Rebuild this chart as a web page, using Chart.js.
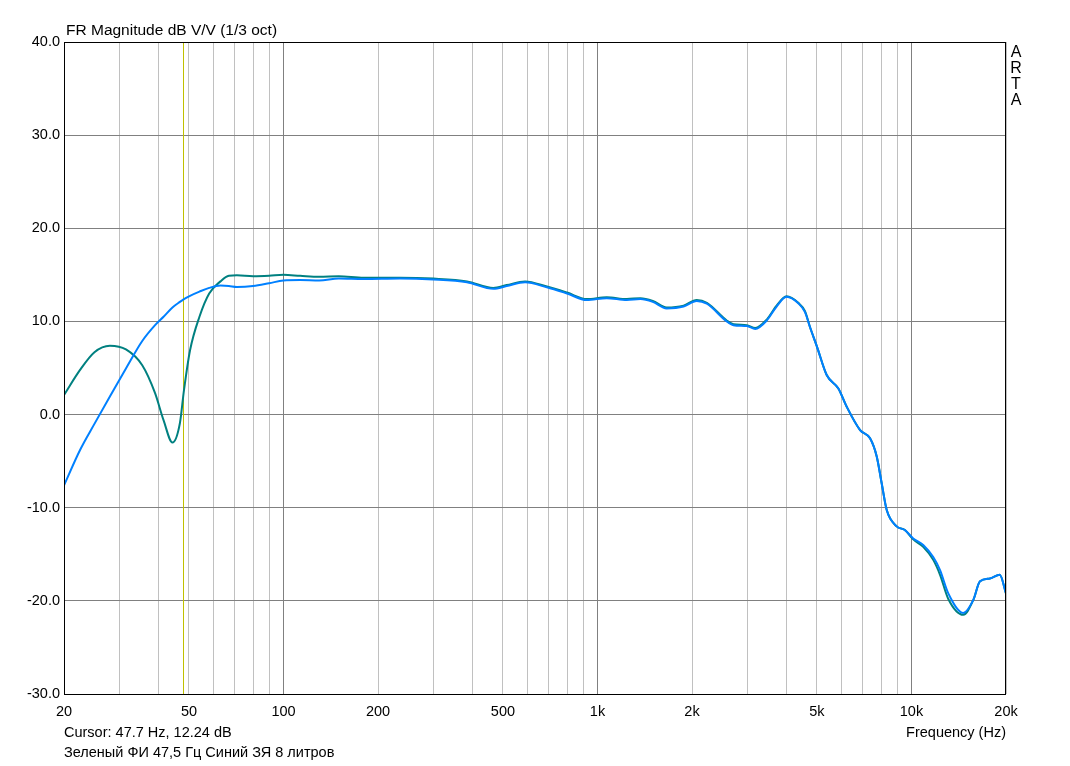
<!DOCTYPE html>
<html>
<head>
<meta charset="utf-8">
<script src="https://cdn.jsdelivr.net/npm/chart.js@4"></script>
<style>
  body { margin: 0; background: #fff; }
  #wrap { width: 1070px; height: 766px; position: relative; }
</style>
</head>
<body>
<div id="wrap"><canvas id="fr"></canvas></div>
<script>
// frequencies (Hz) shared by both traces
var freqs = [20, 22.5, 25, 28, 31.5, 35.5, 39, 41.5, 44.3, 46.8, 48.2, 50.4, 54, 58, 63, 67, 71, 80, 90, 100,
  113, 130, 150, 180, 235, 300, 384, 466, 514, 588, 690, 800, 925, 1070, 1240, 1370, 1500, 1660, 1880, 2070,
  2230, 2580, 2710, 2990, 3180, 3460, 3720, 4000, 4360, 4580, 4750, 5000, 5370, 5850, 6220, 6860, 7380, 7750,
  8040, 8340, 8970, 9530, 10130, 10900, 11730, 12330, 13100, 14620, 15740, 16530, 17780, 19100, 20000];

// green: ФИ 47,5 Гц
var greenDb = [2.1, 4.8, 6.7, 7.4, 7.0, 5.3, 2.3, -0.6, -3.0, -0.9, 2.6, 6.9, 10.5, 13.0, 14.3, 14.9, 14.95, 14.85, 14.9, 15.0,
  14.9, 14.8, 14.85, 14.7, 14.7, 14.6, 14.3, 13.6, 13.9, 14.3, 13.75, 13.1, 12.4, 12.6, 12.4, 12.5, 12.2, 11.5, 11.7, 12.3,
  12.0, 10.1, 9.7, 9.6, 9.3, 10.2, 11.7, 12.7, 12.0, 11.1, 9.4, 7.3, 4.25, 2.8, 0.84, -1.66, -2.55, -4.5,
  -7.4, -10.25, -12.0, -12.4, -13.4, -14.2, -15.6, -17.2, -19.8, -21.5, -19.9, -17.9, -17.6, -17.2, -19.2];

// blue: ЗЯ 8 литров
var blueDb = [-7.6, -3.8, -1.0, 1.95, 4.95, 7.9, 9.6, 10.5, 11.5, 12.1, 12.4, 12.75, 13.2, 13.6, 13.85, 13.8, 13.7, 13.8, 14.1, 14.4,
  14.45, 14.4, 14.6, 14.55, 14.6, 14.5, 14.2, 13.5, 13.8, 14.2, 13.66, 13.0, 12.3, 12.5, 12.3, 12.4, 12.1, 11.4, 11.6, 12.2,
  11.9, 10.0, 9.6, 9.5, 9.2, 10.1, 11.6, 12.65, 11.95, 11.0, 9.4, 7.3, 4.25, 2.8, 0.84, -1.66, -2.55, -4.5,
  -7.4, -10.25, -12.0, -12.4, -13.3, -14.0, -15.3, -16.7, -19.2, -21.3, -19.9, -17.9, -17.6, -17.2, -19.2];

var gridFreqs = [20, 30, 40, 50, 60, 70, 80, 90, 100, 200, 300, 400, 500, 600, 700, 800, 900,
  1000, 2000, 3000, 4000, 5000, 6000, 7000, 8000, 9000, 10000, 20000];
var labelFreqs = [20, 50, 100, 200, 500, 1000, 2000, 5000, 10000, 20000];
var cursorHz = 47.7;

var font = "'Liberation Sans', Arial, sans-serif";

function pts(ys) {
  return freqs.map(function (f, i) { return { x: f, y: ys[i] }; });
}

var extras = {
  id: 'extras',
  beforeDatasetsDraw: function (chart) {
    var c = chart.ctx, a = chart.chartArea;
    var x = Math.round(chart.scales.x.getPixelForValue(cursorHz)) + 0.5;
    c.save();
    c.strokeStyle = '#c0c000';
    c.lineWidth = 1;
    c.beginPath();
    c.moveTo(x, a.top);
    c.lineTo(x, a.bottom);
    c.stroke();
    c.restore();
  },
  afterDraw: function (chart) {
    var c = chart.ctx, a = chart.chartArea;
    c.save();
    c.strokeStyle = '#000';
    c.lineWidth = 1;
    c.strokeRect(a.left + 0.5, a.top + 0.5, a.right - a.left - 1, a.bottom - a.top);
    c.fillStyle = '#000';
    c.font = '15.5px ' + font;
    c.textAlign = 'left';
    c.fillText('FR Magnitude dB V/V (1/3 oct)', 66, 35);
    c.font = '14.5px ' + font;
    c.fillText('Cursor: 47.7 Hz, 12.24 dB', 64, 737);
    c.fillText('Зеленый ФИ 47,5 Гц Синий ЗЯ 8 литров', 64, 757);
    c.textAlign = 'right';
    c.fillText('Frequency (Hz)', 1006, 737);
    c.textAlign = 'center';
    c.font = '16px ' + font;
    ['A', 'R', 'T', 'A'].forEach(function (ch, i) {
      c.fillText(ch, 1016, 57 + i * 16);
    });
    c.restore();
  }
};

Chart.defaults.font.family = font;
Chart.defaults.font.size = 14.5;
Chart.defaults.color = '#000';

new Chart(document.getElementById('fr'), {
  type: 'line',
  data: {
    datasets: [{
      label: 'Синий ЗЯ 8 литров',
      data: pts(blueDb),
      borderColor: '#0080ff',
      borderWidth: 2,
      pointRadius: 0,
      cubicInterpolationMode: 'monotone'
    }, {
      label: 'Зеленый ФИ 47,5 Гц',
      data: pts(greenDb),
      borderColor: '#008080',
      borderWidth: 2,
      pointRadius: 0,
      cubicInterpolationMode: 'monotone'
    }]
  },
  options: {
    responsive: true,
    maintainAspectRatio: false,
    animation: false,
    layout: { padding: { top: 42, right: 64, left: 0, bottom: 0 } },
    plugins: { legend: { display: false }, tooltip: { enabled: false } },
    scales: {
      x: {
        type: 'logarithmic',
        min: 20,
        max: 20000,
        afterBuildTicks: function (s) {
          s.ticks = gridFreqs.map(function (v) { return { value: v }; });
        },
        afterFit: function (s) { s.height = 72; },
        border: { display: false },
        grid: {
          drawTicks: false,
          color: function (ctx) {
            var v = ctx.tick && ctx.tick.value;
            return (v === 100 || v === 1000 || v === 10000) ? '#808080' : '#c0c0c0';
          }
        },
        ticks: {
          autoSkip: false,
          maxRotation: 0,
          padding: 9,
          callback: function (v) {
            if (labelFreqs.indexOf(v) < 0) return '';
            return v >= 1000 ? (v / 1000) + 'k' : String(v);
          }
        }
      },
      y: {
        min: -30,
        max: 40,
        afterFit: function (s) { s.width = 64; },
        border: { display: false },
        grid: { drawTicks: false, color: '#808080' },
        ticks: {
          stepSize: 10,
          padding: 4,
          callback: function (v) { return v.toFixed(1); }
        }
      }
    }
  },
  plugins: [extras]
});
</script>
</body>
</html>
